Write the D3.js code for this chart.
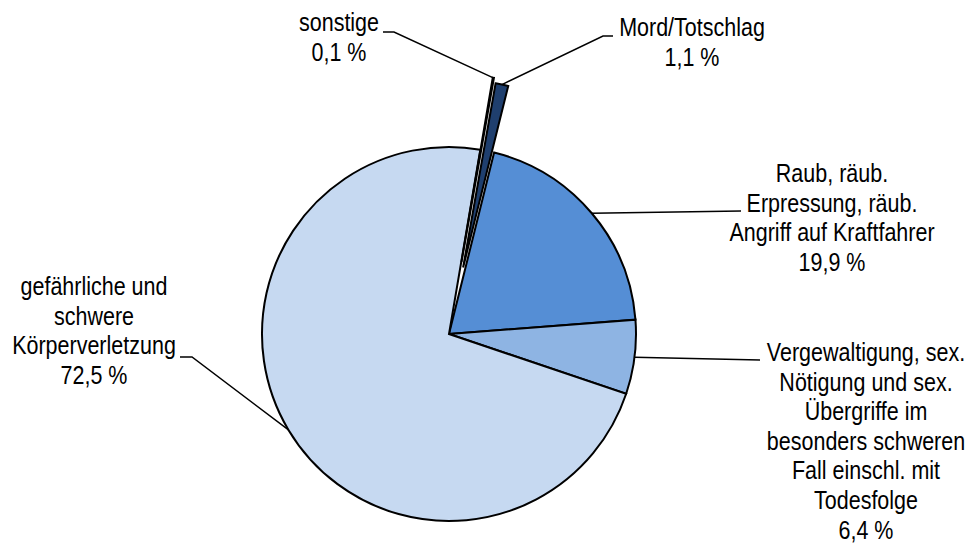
<!DOCTYPE html>
<html>
<head>
<meta charset="utf-8">
<script src="https://cdn.jsdelivr.net/npm/d3@7"></script>
<style>
  html, body { margin: 0; padding: 0; background: #ffffff; }
  svg { display: block; }
  text { font-family: "Liberation Sans", Arial, sans-serif; fill: #000; }
</style>
</head>
<body>
<svg id="chart" width="969" height="546"></svg>
<script>
// ---- data ----
const categories = [
  "Mord/Totschlag",
  "Raub, räub. Erpressung, räub. Angriff auf Kraftfahrer",
  "Vergewaltigung, sex. Nötigung und sex. Übergriffe im besonders schweren Fall einschl. mit Todesfolge",
  "gefährliche und schwere Körperverletzung",
  "sonstige"
];
const values = [1.1, 19.9, 6.4, 72.5, 0.1];
const labelLines = [
  ["Mord/Totschlag", "1,1 %"],
  ["Raub, räub.", "Erpressung, räub.", "Angriff auf Kraftfahrer", "19,9 %"],
  ["Vergewaltigung, sex.", "Nötigung und sex.", "Übergriffe im", "besonders schweren", "Fall einschl. mit", "Todesfolge", "6,4 %"],
  ["gefährliche und", "schwere", "Körperverletzung", "72,5 %"],
  ["sonstige", "0,1 %"]
];
const colors = ["#1F3F6E", "#558ED5", "#8EB4E3", "#C6D9F1", "#FFFFFF"];

// ---- layout ----
const cx = 449, cy = 334, R = 187;
const startDeg = 10.0;
const explode = [68, 0, 0, 0, 73];
const fontSize = 25.5, lineH = 29.6;
const targetEm = 21.5; // horizontal width equivalent (condensed look)
const labelPos = [
  {x: 692, y: 36},
  {x: 832, y: 182},
  {x: 866, y: 361},
  {x: 94,  y: 295},
  {x: 339, y: 31}
];
const leaderPts = [
  [[603, 36], [613, 36]],
  [[741, 211]],
  [[760, 360]],
  [[192, 357], [180, 357]],
  [[394, 32], [383, 32]]
];

const svg = d3.select("#chart");
const g = svg.append("g").attr("transform", `translate(${cx},${cy})`);

const pie = d3.pie().sort(null).value(d => d)
  .startAngle(startDeg * Math.PI / 180)
  .endAngle(startDeg * Math.PI / 180 + 2 * Math.PI);
const arcs = pie(values);
const arc = d3.arc().innerRadius(0).outerRadius(R);

const mid = a => (a.startAngle + a.endAngle) / 2;
const offsetOf = (a, i) => [explode[i] * Math.sin(mid(a)), -explode[i] * Math.cos(mid(a))];

const order = d3.range(arcs.length).sort((a, b) => (explode[a] > 0) - (explode[b] > 0));
order.forEach(i => {
  const a = arcs[i];
  const [ox, oy] = offsetOf(a, i);
  g.append("path")
    .attr("d", arc(a))
    .attr("transform", `translate(${ox},${oy})`)
    .attr("fill", colors[i])
    .attr("stroke", "#000")
    .attr("stroke-width", 2)
    .attr("stroke-linejoin", "miter");
});

// leader lines
const line = d3.line();
arcs.forEach((a, i) => {
  const [ox, oy] = offsetOf(a, i);
  const m = mid(a);
  const start = [cx + ox + R * Math.sin(m), cy + oy - R * Math.cos(m)];
  const pts = [start].concat(leaderPts[i]);
  svg.append("path")
    .attr("d", line(pts))
    .attr("fill", "none")
    .attr("stroke", "#000")
    .attr("stroke-width", 1.5);
});

// labels (condensed by horizontal scaling)
const sx = targetEm / fontSize;
labelLines.forEach((lines, i) => {
  const t = svg.append("text")
    .attr("text-anchor", "middle")
    .attr("font-size", fontSize)
    .attr("transform", `translate(${labelPos[i].x},0) scale(${sx},1)`);
  lines.forEach((s, k) => {
    t.append("tspan")
      .attr("x", 0)
      .attr("y", labelPos[i].y + k * lineH)
      .text(s);
  });
});
</script>
</body>
</html>
